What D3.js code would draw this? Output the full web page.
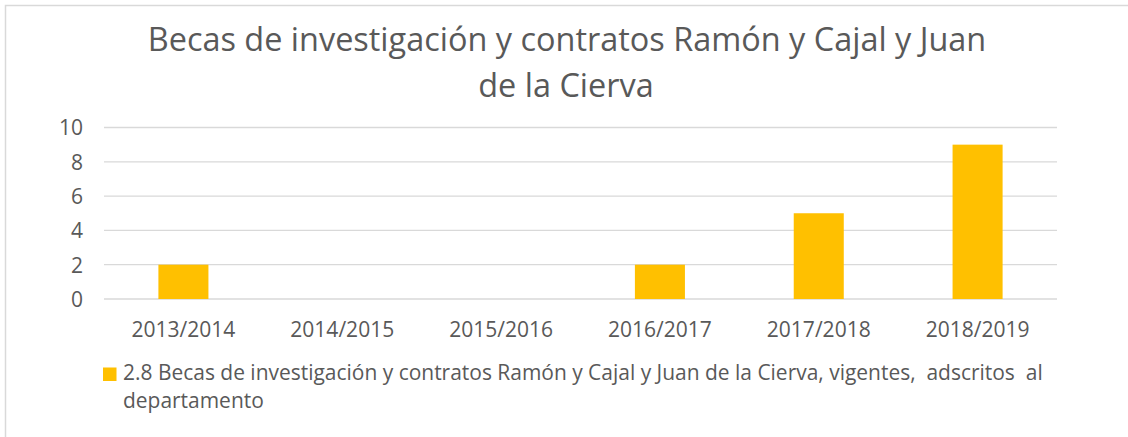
<!DOCTYPE html>
<html>
<head>
<meta charset="utf-8">
<script src="https://cdn.jsdelivr.net/npm/d3@7"></script>
<style>
  body { margin: 0; background: #fff; }
  text { font-family: "Open Sans", "Noto Sans", sans-serif; fill: #595959; white-space: pre; }
</style>
</head>
<body>
<div id="chart"></div>
<script>
// data
const categories = ["2013/2014", "2014/2015", "2015/2016", "2016/2017", "2017/2018", "2018/2019"];
const values = [2, 0, 0, 2, 5, 9];
const yTicks = [0, 2, 4, 6, 8, 10];
const titleLines = ["Becas de investigación y contratos Ramón y Cajal y Juan", "de la Cierva"];
const legendLines = ["2.8 Becas de investigación y contratos Ramón y Cajal y Juan de la Cierva, vigentes,  adscritos  al", "departamento"];

const W = 1128, H = 437;
const plot = { left: 104, right: 1057, top: 127.5, bottom: 299 };

const svg = d3.select("#chart").append("svg")
  .attr("width", W)
  .attr("height", H);

// outer chart border (only top/left visible in crop)
svg.append("rect")
  .attr("x", 5.5).attr("y", 5.5)
  .attr("width", W + 10).attr("height", H + 10)
  .attr("fill", "#fff")
  .attr("stroke", "#d9d9d9")
  .attr("stroke-width", 1.5);

// shrink/grow font so a text hits a target width
function fitText(sel, target) {
  const w = sel.node().getComputedTextLength();
  const fs = parseFloat(sel.attr("font-size"));
  sel.attr("font-size", fs * target / w);
}

const x = d3.scaleBand()
  .domain(categories)
  .range([plot.left, plot.right])
  .paddingInner(0.685)
  .paddingOuter(0.3425);

const y = d3.scaleLinear()
  .domain([0, 10])
  .range([plot.bottom, plot.top]);

// gridlines
svg.append("g")
  .selectAll("line")
  .data(yTicks)
  .join("line")
  .attr("x1", plot.left).attr("x2", plot.right)
  .attr("y1", d => y(d)).attr("y2", d => y(d))
  .attr("stroke", "#d9d9d9")
  .attr("stroke-width", 1.3);

// y axis labels
const yAxis = svg.append("g")
  .attr("transform", `translate(${plot.left - 21},0)`)
  .call(d3.axisLeft(y).tickValues(yTicks).tickSize(0).tickPadding(0));
yAxis.select(".domain").remove();
yAxis.selectAll("text")
  .attr("font-size", 19.5)
  .attr("font-family", null)
  .attr("fill", "#595959")
  .attr("dy", "0.35em");

// bars
svg.append("g")
  .selectAll("rect")
  .data(values)
  .join("rect")
  .attr("x", (d, i) => x(categories[i]))
  .attr("width", x.bandwidth())
  .attr("y", d => y(d))
  .attr("height", d => y(0) - y(d))
  .attr("fill", "#ffc000");

// x axis labels
const xAxis = svg.append("g")
  .attr("transform", `translate(0,${plot.bottom})`)
  .call(d3.axisBottom(x).tickSize(0).tickPadding(0));
xAxis.select(".domain").remove();
xAxis.selectAll("text")
  .attr("font-family", null)
  .attr("fill", "#595959")
  .attr("dy", 0)
  .attr("y", 38)
  .attr("font-size", 20);
fitText(xAxis.select("text"), 104);
const xfs = xAxis.select("text").attr("font-size");
xAxis.selectAll("text").attr("font-size", xfs);
yAxis.selectAll("text").attr("font-size", xfs);

// title
const titleY = [51, 96.5];
const t1 = svg.append("text")
  .attr("x", 567).attr("y", titleY[0])
  .attr("text-anchor", "middle")
  .attr("font-size", 30)
  .text(titleLines[0]);
fitText(t1, 839);
svg.append("text")
  .attr("x", 566).attr("y", titleY[1])
  .attr("text-anchor", "middle")
  .attr("font-size", t1.attr("font-size"))
  .text(titleLines[1]);

// legend
svg.append("rect")
  .attr("x", 103).attr("y", 367.5)
  .attr("width", 13.5).attr("height", 13.5)
  .attr("fill", "#ffc000");
const l1 = svg.append("text")
  .attr("x", 123).attr("y", 380)
  .attr("font-size", 20)
  .text(legendLines[0]);
fitText(l1, 920);
svg.append("text")
  .attr("x", 123).attr("y", 408)
  .attr("font-size", l1.attr("font-size"))
  .text(legendLines[1]);
</script>
</body>
</html>
